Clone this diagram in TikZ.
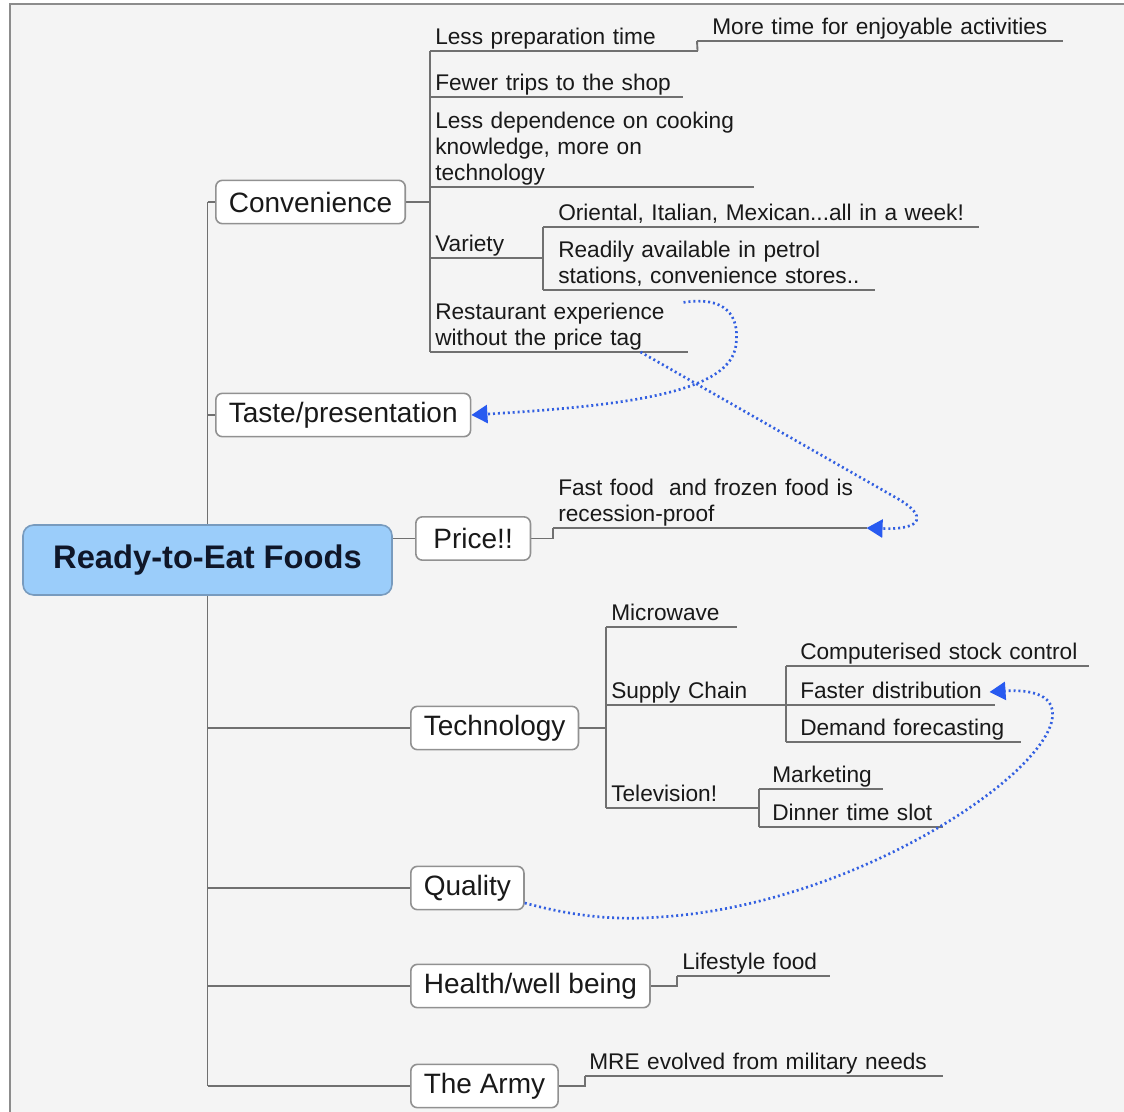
\documentclass[tikz,border=0pt]{standalone}
\usepackage{fontspec}
\setmainfont{Liberation Sans}
\usetikzlibrary{arrows.meta}
\definecolor{bgcol}{RGB}{244,244,244}
\definecolor{framecol}{RGB}{140,140,140}
\definecolor{linecol}{RGB}{112,112,112}
\definecolor{boxline}{RGB}{145,145,145}
\definecolor{txtcol}{RGB}{25,25,25}
\definecolor{rootfill}{RGB}{155,205,250}
\definecolor{rootline}{RGB}{120,155,190}
\definecolor{roottext}{RGB}{15,22,40}
\definecolor{dotcol}{RGB}{50,95,225}
\definecolor{tipcol}{RGB}{40,90,240}
\newcommand\mmleaffont{\fontsize{17}{19.5}\selectfont}
\newcommand\mmboxfont{\fontsize{21}{25}\selectfont}
\newcommand\mmrootfont{\fontsize{24.5}{29}\selectfont\bfseries}
\pgfdeclarelayer{back}
\pgfdeclarelayer{lines}
\pgfsetlayers{back,lines,main}
\begin{document}
\begin{tikzpicture}[x=0.75pt, y=-0.75pt,
  conn/.style={draw=linecol, line width=1.4pt},
  topic/.style={draw=boxline, line width=1.2pt, fill=white, rounded corners=5pt, anchor=west,
    inner xsep=9.75pt, inner ysep=0pt, minimum height=32.5pt, font=\mmboxfont, text=txtcol},
  rootbox/.style={draw=rootline, line width=1.2pt, fill=rootfill, rounded corners=8pt,
    minimum width=276.75pt, minimum height=52.5pt, inner sep=0pt, font=\mmrootfont, text=roottext},
  leaf/.style 2 args={anchor=south west, inner sep=0pt, text width=#1*0.75pt, align=left,
    font=\mmleaffont, text=txtcol,
    execute at begin node={\leftskip=#2pt\rightskip=-120pt plus 1fil\relax},
    execute at end node={\rule[-5pt]{0pt}{1pt}}},
  link/.style={draw=dotcol, line width=2pt, dash pattern=on 1.5pt off 2.2pt,
    -{Triangle[length=12pt,width=13.5pt,fill=tipcol,color=tipcol]}}
]
\useasboundingbox (0,0) rectangle (1124,1112);
\begin{pgfonlayer}{back}
  \fill[white] (0,0) rectangle (1124,1112);
  \fill[bgcol] (10,4) rectangle (1124,1112);
  \draw[framecol, line width=1.2pt] (10,1112) -- (10,4) -- (1124,4);
\end{pgfonlayer}

% main topics
\node[rootbox] (root) at (207.5,560) {Ready-to-Eat Foods};
\node[topic] (conv) at (215,202) {Convenience};
\node[topic] (taste) at (215,415) {Taste/presentation};
\node[topic, minimum width=86pt] (price) at (415,538.5) {Price!!};
\node[topic] (tech) at (410,728) {Technology};
\node[topic] (qual) at (410,888) {Quality};
\node[topic] (health) at (410,986) {Health/well being};
\node[topic] (army) at (410,1086) {The Army};

% leaves
\node[leaf={267}{3.75}] (lpt) at (430,51) {Less preparation time};
\node[leaf={365}{11.25}] (mte) at (697,41) {More time for enjoyable activities};
\node[leaf={252}{3.75}] (fts) at (430,97) {Fewer trips to the shop};
\node[leaf={323}{3.75}] (ldc) at (430,187) {Less dependence on cooking\\knowledge, more on\\technology};
\node[leaf={113}{3.75}] (var) at (430,258) {Variety};
\node[leaf={435}{11.25}] (ori) at (543,227) {Oriental, Italian, Mexican...all in a week!};
\node[leaf={331}{11.25}] (rdy) at (543,290) {Readily available in petrol\\stations, convenience stores..};
\node[leaf={257}{3.75}] (rest) at (430,352) {Restaurant experience\\without the price tag};
\node[leaf={313}{3.75}] (ff) at (553,528) {Fast food~ and frozen food is\\recession-proof};
\node[leaf={130}{3.75}] (mw) at (606,627) {Microwave};
\node[leaf={180}{3.75}] (sc) at (606,705) {Supply Chain};
\node[leaf={302}{10.5}] (csc) at (786,666) {Computerised stock control};
\node[leaf={208}{10.5}] (fd) at (786,705) {Faster distribution};
\node[leaf={234}{10.5}] (dfc) at (786,742) {Demand forecasting};
\node[leaf={153}{3.75}] (tv) at (606,808) {Television!};
\node[leaf={123}{9.75}] (mkt) at (759,789) {Marketing};
\node[leaf={183}{9.75}] (dts) at (759,827) {Dinner time slot};
\node[leaf={152}{3.75}] (life) at (677,976) {Lifestyle food};
\node[leaf={357}{3}] (mre) at (585,1076) {MRE evolved from military needs};

\begin{pgfonlayer}{lines}
  % trunk and topic links
  \draw[conn] (conv.west -| root) -- (army.west -| root);
  \foreach \t in {conv,taste,tech,qual,health,army}
    \draw[conn] (\t.west -| root) -- (\t.west);
  \draw[conn] (root.east |- price.west) -- (price.west);
  % convenience branch
  \draw[conn] (conv.east) -- (conv.east -| lpt.south west);
  \draw[conn] (lpt.south west) -- (rest.south west);
  \draw[conn] (lpt.south east) -- (mte.south west);
  \draw[conn] (ori.south west) -- (rdy.south west);
  % price branch
  \draw[conn] (price.east) -| (ff.south west);
  % technology branch
  \draw[conn] (tech.east) -- (tech.east -| mw.south west);
  \draw[conn] (mw.south west) -- (tv.south west);
  \draw[conn] (csc.south west) -- (dfc.south west);
  \draw[conn] (mkt.south west) -- (dts.south west);
  % health and army
  \draw[conn] (health.east) -| (life.south west);
  \draw[conn] (army.east) -| (mre.south west);
  % underlines
  \foreach \l in {lpt,mte,fts,ldc,var,ori,rdy,rest,ff,mw,sc,csc,fd,dfc,tv,mkt,dts,life,mre}
    \draw[conn] (\l.south west) -- (\l.south east);
\end{pgfonlayer}

% dotted relationship arrows
\draw[link] ([shift={(-4,0)}]rest.north east) .. controls (725,296) and (740,315) .. (736,345)
  .. controls (730,390) and (640,405) .. (taste.east);
\draw[link] ([shift={(-47,0)}]rest.south east) -- (900,500)
  .. controls (925,515) and (925,530) .. (ff.south east);
\draw[link] ([shift={(0,15)}]qual.east) .. controls (580,918) and (620,920) .. (660,917)
  .. controls (850,905) and (1040,780) .. (1052,720)
  .. controls (1058,690) and (1020,690) .. ([shift={(-5,-13)}]fd.south east);
\end{tikzpicture}
\end{document}
